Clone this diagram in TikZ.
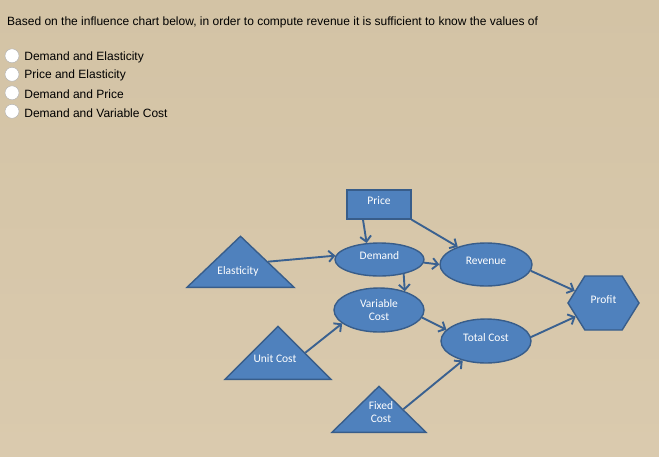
\documentclass[tikz,border=0pt]{standalone}
\usepackage{fontspec}
\setmainfont{Liberation Sans}
\newfontfamily\carlito{Carlito}
\usepackage{xcolor}
\usepackage{tikz}
\usetikzlibrary{positioning,arrows.meta,shapes.geometric,shapes.symbols}
\definecolor{azul}{HTML}{4F81BD}
\definecolor{azulosc}{HTML}{385D8A}
\definecolor{linea}{HTML}{3A6190}
\definecolor{fondoa}{HTML}{D3C3A5}
\definecolor{fondob}{HTML}{E3D6BE}
\definecolor{fondoc}{HTML}{DACAAE}
\definecolor{gris}{HTML}{9A9A9A}

\begin{document}
\begin{tikzpicture}[
  x=1pt, y=-1pt,
  font=\fontsize{12}{14}\selectfont,
  forma/.style={draw=azulosc, fill=azul, line width=1.4pt, text=white,
    font=\carlito\fontsize{11.5}{13}\selectfont, align=center, inner sep=0pt},
  sube/.style={text depth=7pt},
  caja/.style={forma, rectangle},
  elipse/.style={forma, ellipse},
  hexag/.style={forma, signal, signal to=east and west, signal pointer angle=116},
  triang/.style={forma, isosceles triangle, isosceles triangle apex angle=90,
    isosceles triangle stretches, shape border rotate=90, anchor=lower side},
  etiq/.style={text=white, font=\carlito\fontsize{11.5}{13}\selectfont, align=center, inner sep=0pt},
  radio/.style={circle, draw=gris!80, fill=white, minimum size=14pt, inner sep=0pt},
  opcion/.style={inner sep=0pt},
  flecha/.style={-{Straight Barb[length=5.5pt,width=11pt]}, line width=1.9pt, draw=linea}
]
  \shade[top color=fondoa, middle color=fondob, bottom color=fondoc] (0,0) rectangle (659,456);
  \useasboundingbox (0,0) rectangle (659,456);

  % pregunta y opciones
  \node[opcion, anchor=base west] (q) at (7,25)
    {Based on the influence chart below, in order to compute revenue it is sufficient to know the values of};
  \node[radio] (r1) at (12,55.8) {};
  \node[radio] (r2) at (12,74.3) {};
  \node[radio] (r3) at (12,92.8) {};
  \node[radio] (r4) at (12,111.3) {};
  \node[opcion, right=5pt of r1, yshift=-1.5pt] (o1) {Demand and Elasticity};
  \node[opcion, right=5pt of r2, yshift=-1.5pt] (o2) {Price and Elasticity};
  \node[opcion, right=5pt of r3, yshift=-1.5pt] (o3) {Demand and Price};
  \node[opcion, right=5pt of r4, yshift=-1.5pt] (o4) {Demand and Variable Cost};

  % diagrama de influencia
  \node[caja, sube, minimum width=64pt, minimum height=29pt] (pr) at (379,204.5) {Price};
  \node[elipse, sube, minimum width=89pt, minimum height=33pt] (dem) at (379.5,259.5) {Demand};
  \node[elipse, sube, minimum width=92pt, minimum height=43pt] (rev) at (486,264.5) {Revenue};
  \node[elipse, minimum width=90pt, minimum height=44pt] (vc) at (379,310) {Variable\\Cost};
  \node[elipse, sube, minimum width=90pt, minimum height=44pt] (tc) at (486,341) {Total Cost};
  \node[hexag, sube, minimum width=71pt, minimum height=54pt] (prof) at (603.5,303) {Profit};

  \node[triang, minimum width=107pt, minimum height=51pt] (el) at (240.5,288) {};
  \node[etiq] (elt) at (238,271) {Elasticity};
  \node[triang, minimum width=106pt, minimum height=53pt] (uc) at (278,380) {};
  \node[etiq] (uct) at (275,358.5) {Unit Cost};
  \node[triang, minimum width=94pt, minimum height=46pt] (fc) at (379,433) {};
  \node[etiq] (fct) at (381,412.5) {Fixed\\Cost};

  \draw[flecha] ([xshift=-16pt]pr.south) -- (dem.128);
  \draw[flecha] (pr.south east) -- (rev.148);
  \draw[flecha] (el.right side) -- (dem.175);
  \draw[flecha] (dem.-4) -- (rev.180);
  \draw[flecha] (dem.-31) -- (vc.36);
  \draw[flecha] (vc.-10) -- (tc.164);
  \draw[flecha] (uc.right side) -- (vc.200);
  \draw[flecha] (fc.right side) -- (tc.220);
  \draw[flecha] (rev.-8) -- (prof.157);
  \draw[flecha] (tc.5) -- (prof.206);
\end{tikzpicture}
\end{document}
